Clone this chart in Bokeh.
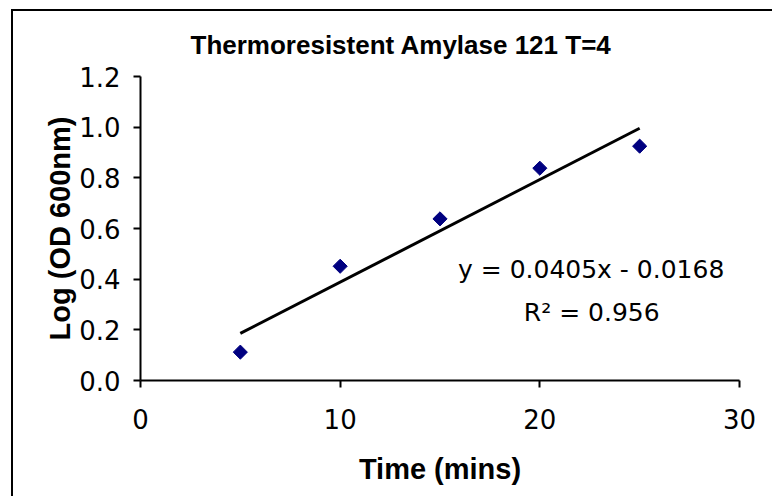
import math
from bokeh.plotting import figure
from bokeh.models import Label, FixedTicker, NumeralTickFormatter
from bokeh.embed import file_html
from bokeh.resources import INLINE

# ---- data ----
time_mins = [5, 10, 15, 20, 25]
log_od = [0.112, 0.451, 0.638, 0.838, 0.925]
fit_slope = 0.0405
fit_intercept = -0.0168
x_ticks = [0, 10, 20, 30]
y_ticks = [0.0, 0.2, 0.4, 0.6, 0.8, 1.0, 1.2]
title_text = "Thermoresistent Amylase 121 T=4"
x_label = "Time (mins)"
y_label = "Log (OD 600nm)"
eq_text = "y = 0.0405x - 0.0168"
r2_text = "R\u00b2 = 0.956"

fit_x = [min(time_mins), max(time_mins)]
fit_y = [fit_slope * x + fit_intercept for x in fit_x]

REG = "DejaVu Sans"
BOLD = "Liberation Sans"

p = figure(
    frame_width=599, frame_height=304,
    min_border_left=127, min_border_right=35,
    min_border_top=65, min_border_bottom=118,
    x_range=(0, 30), y_range=(0, 1.2),
    output_backend="svg", toolbar_location=None,
    title=title_text,
    styles={"box-shadow": "-2px -2px 0px 0px black",
            "margin-left": "13px", "margin-top": "11px"},
)
p.outline_line_color = None
p.xgrid.visible = False
p.ygrid.visible = False
p.background_fill_color = "white"
p.border_fill_color = "white"

p.title.align = "left"
p.title.offset = 50
p.title.standoff = 33
p.title.text_font = BOLD
p.title.text_font_size = "26px"
p.title.text_font_style = "bold"
p.title.text_color = "black"

for ax in (p.xaxis[0], p.yaxis[0]):
    ax.axis_line_width = 2
    ax.axis_line_color = "black"
    ax.major_tick_line_width = 2
    ax.major_tick_line_color = "black"
    ax.major_tick_out = 7
    ax.major_tick_in = 0
    ax.minor_tick_line_color = None
    ax.major_label_text_font = REG
    ax.major_label_text_font_size = "26px"
    ax.major_label_text_color = "black"
    ax.axis_label_text_font = BOLD
    ax.axis_label_text_font_size = "29px"
    ax.axis_label_text_font_style = "bold"
    ax.axis_label_text_color = "black"

p.xaxis[0].ticker = FixedTicker(ticks=x_ticks)
p.yaxis[0].ticker = FixedTicker(ticks=y_ticks)
p.yaxis[0].formatter = NumeralTickFormatter(format="0.0")
p.xaxis[0].axis_label = x_label
p.yaxis[0].axis_label = y_label
p.xaxis[0].major_label_standoff = 21
p.yaxis[0].major_label_standoff = 13
p.xaxis[0].axis_label_standoff = 21
p.yaxis[0].axis_label_standoff = 0

p.line(fit_x, fit_y, line_color="black", line_width=3)
p.scatter(time_mins, log_od, marker="square", angle=math.pi / 4, size=10,
          fill_color="#000080", line_color="#000080")

p.add_layout(Label(x=22.57, y=0.437, text=eq_text, text_align="center",
                   text_baseline="alphabetic", text_font=REG,
                   text_font_size="25px", text_color="black"))
p.add_layout(Label(x=22.6, y=0.268, text=r2_text, text_align="center",
                   text_baseline="alphabetic", text_font=REG,
                   text_font_size="25px", text_color="black"))

open("out.html", "w").write(file_html(p, INLINE))
